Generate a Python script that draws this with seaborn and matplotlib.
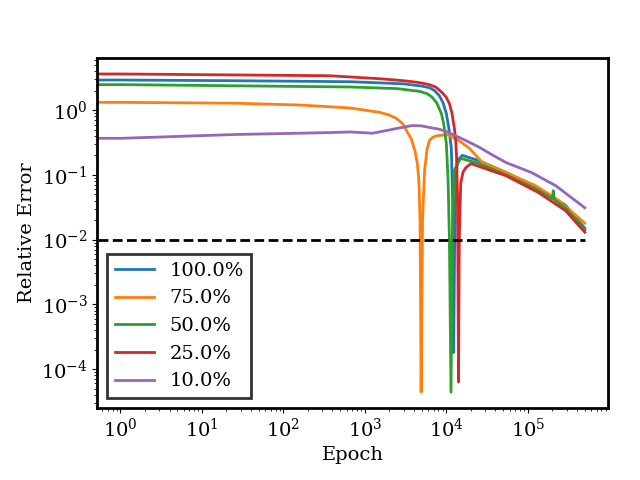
import numpy as np
import pandas as pd
import seaborn as sns
from matplotlib import pyplot as plt

# Valori (epoca, eroare relativa)
epoch_100 = [0, 1, 25, 660, 3000, 5000, 6200, 7200, 8200, 9100, 10000, 10800, 11500, 11900, 12300,
             12600, 12900, 13600, 15700, 25000, 54000, 136000, 290000, 500000]
err_100 = [2.92, 2.92, 2.85, 2.75, 2.55, 2.35, 2.22, 2.0, 1.67, 1.3, 0.88, 0.5, 0.26, 0.05, 1.8e-4,
           0.006, 0.05, 0.166, 0.20, 0.166, 0.109, 0.061, 0.034, 0.015]

epoch_75 = [0, 1, 25, 160, 660, 1000, 1520, 2000, 2450, 2900, 3250, 3700, 4100, 4400, 4600, 4750, 4900,
            5100, 5400, 5800, 6200, 6800, 7500, 10000, 13300, 19000, 27700, 54000, 125000, 240000, 500000]
err_75 = [1.32, 1.32, 1.28, 1.2, 1.08, 1.0, 0.925, 0.84, 0.74, 0.62, 0.48, 0.36, 0.24, 0.15, 0.082, 0.02, 4.4e-5,
          0.02, 0.117, 0.25, 0.34, 0.38, 0.40, 0.42, 0.36, 0.26, 0.155, 0.109, 0.068, 0.040, 0.018]

epoch_50 = [0, 1, 660, 2500, 4700, 5800, 6700, 7600, 8700, 9300, 10000, 10200, 10500, 10900, 11400,
            11800, 12500, 14400, 15000, 25000, 54000, 136000, 200000, 205000, 212000, 290000, 500000]
err_50 = [2.48, 2.48, 2.28, 2.15, 1.95, 1.8, 1.58, 1.3, 0.88, 0.6, 0.30, 0.18, 0.082, 0.01, 4.4e-5,
          0.01, 0.117, 0.166, 0.18, 0.15, 0.10, 0.057, 0.043, 0.057, 0.041, 0.031, 0.014]

epoch_25 = [0, 1, 25, 370, 1500, 3000, 4500, 6200, 7500, 8900, 9900, 10900, 11700, 12500, 13000, 13300,
            13700, 14100, 14400, 15000, 16000, 17400, 20000, 54000, 136000, 290000, 500000]
err_25 = [3.62, 3.62, 3.5, 3.4, 3.06, 2.85, 2.68, 2.48, 2.25, 1.86, 1.6, 1.26, 0.9, 0.54, 0.35, 0.21,
          0.05, 6.3e-5, 0.01, 0.074, 0.11, 0.13, 0.149, 0.097, 0.053, 0.028, 0.013]

epoch_10 = [0, 1, 25, 370, 660, 1250, 2450, 3850, 5000, 6200, 8000, 10000, 12000, 15700, 20000, 25000,
            35000, 54000, 112000, 220000, 500000]
err_10 = [0.367, 0.367, 0.42, 0.45, 0.46, 0.44, 0.52, 0.58, 0.57, 0.54, 0.51, 0.47, 0.42, 0.36, 0.31, 0.27,
          0.21, 0.155, 0.108, 0.068, 0.031]

labels = ['100.0%', '75.0%', '50.0%', '25.0%', '10.0%']
tinta = 1e-2

serii = [(epoch_100, err_100), (epoch_75, err_75), (epoch_50, err_50),
         (epoch_25, err_25), (epoch_10, err_10)]
frames = []
for lab, (ep, er) in zip(labels, serii):
    frames.append(pd.DataFrame({'Epoch': ep, 'Relative Error': er, 'Fractie': lab}))
df = pd.concat(frames, ignore_index=True)

plt.rcParams['font.family'] = ['DejaVu Serif']
plt.rcParams['font.size'] = 14
plt.rcParams['axes.linewidth'] = 2

fig, ax = plt.subplots(figsize=(6.4, 4.8), dpi=100)
fig.subplots_adjust(left=0.152, right=0.95, top=0.879, bottom=0.15)

sns.lineplot(data=df, x='Epoch', y='Relative Error', hue='Fractie',
             hue_order=labels, palette='tab10', linewidth=2,
             estimator=None, sort=False, ax=ax, legend=False)

ax.plot([0, 500000], [tinta, tinta], 'k--', linewidth=2, dashes=(3.5, 1.6))

ax.set_xscale('log')
ax.set_yscale('log')
ax.set_xlabel('Epoch')
ax.set_ylabel('Relative Error')

handles = ax.get_lines()[:5]
leg = ax.legend(handles, labels, loc='lower left', fancybox=False, framealpha=1)
leg.get_frame().set_edgecolor('0.2')
leg.get_frame().set_linewidth(2)
for h in leg.get_lines():
    h.set_linewidth(2)

plt.savefig('out.png')
